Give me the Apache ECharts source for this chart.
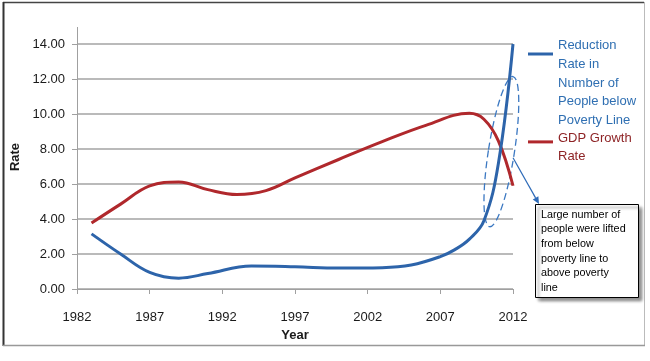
<!DOCTYPE html>
<html>
<head>
<meta charset="utf-8">
<script src="https://cdn.jsdelivr.net/npm/echarts@6/dist/echarts.min.js"></script>
<style>
html,body{margin:0;padding:0;background:#fff;}
#chart{width:650px;height:361px;}
</style>
</head>
<body>
<div id="chart"></div>
<script>
// ---- data ----
var xTicks = [1982, 1987, 1992, 1997, 2002, 2007, 2012];
var yTicks = [0, 2, 4, 6, 8, 10, 12, 14];

var povertyYears = [1983, 1985, 1987, 1989, 1991, 1994, 1997, 2000, 2003, 2005, 2007, 2008, 2009, 2010, 2011, 2012];
var povertyRates = [3.15, 2.00, 0.95, 0.62, 0.88, 1.31, 1.27, 1.20, 1.22, 1.37, 1.85, 2.25, 2.85, 3.90, 7.20, 14.00];

var gdpYears = [1983, 1985, 1987, 1989, 1991, 1993, 1995, 1997, 2000, 2003, 2006, 2009, 2010, 2011, 2012];
var gdpRates = [3.77, 4.85, 5.89, 6.12, 5.68, 5.40, 5.62, 6.35, 7.40, 8.42, 9.35, 10.04, 9.70, 8.45, 5.90];

var seriesNames = ['Reduction\nRate in\nNumber of\nPeople below\nPoverty Line', 'GDP Growth\nRate'];
var noteLines = ['Large number of', 'people were lifted', 'from below', 'poverty line to', 'above poverty', 'line'];

function pairs(xs, ys) { return xs.map(function (x, i) { return [x, ys[i]]; }); }

var BLUE = '#2d64aa';
var RED = '#b0282c';
var FONT = 'Liberation Sans, Arial, sans-serif';

var chart = echarts.init(document.getElementById('chart'), null, {renderer: 'canvas'});

// legend text: an invisible first line of a set height shifts the words below the icon
var legendPad = {};
legendPad[seriesNames[0]] = 's1';
legendPad[seriesNames[1]] = 's2';

var option = {
  backgroundColor: '#fff',
  animation: false,
  grid: {left: 77, right: 137, top: 44, bottom: 72, containLabel: false},
  xAxis: {
    type: 'value', min: xTicks[0], max: xTicks[xTicks.length - 1], interval: 5,
    name: 'Year', nameLocation: 'middle', nameGap: 37,
    nameTextStyle: {fontFamily: FONT, fontSize: 13, fontWeight: 'bold', color: '#1a1a1a'},
    axisLine: {show: true, lineStyle: {color: '#a0a0a0', width: 1}},
    axisTick: {show: true, length: 5, lineStyle: {color: '#a0a0a0'}},
    axisLabel: {fontFamily: FONT, fontSize: 13, color: '#1a1a1a', margin: 22,
      formatter: function (v) { return String(v); }},
    splitLine: {show: false}
  },
  yAxis: {
    type: 'value', min: yTicks[0], max: yTicks[yTicks.length - 1], interval: 2,
    axisLine: {show: true, lineStyle: {color: '#a0a0a0', width: 1}},
    axisTick: {show: true, length: 5, lineStyle: {color: '#a0a0a0'}},
    axisLabel: {fontFamily: FONT, fontSize: 13, color: '#1a1a1a', margin: 12,
      formatter: function (v) { return v.toFixed(2); }},
    splitLine: {show: true, lineStyle: {color: '#a3a3a3', width: 1.5}}
  },
  legend: {
    orient: 'vertical', left: 528, top: 6, padding: 0, itemGap: -5,
    itemWidth: 25, itemHeight: 3, icon: 'rect',
    formatter: function (name) {
      var lines = name.split('\n').map(function (l) { return '{t|' + l + '}'; });
      return '{' + legendPad[name] + '| }\n' + lines.join('\n');
    },
    textStyle: {fontFamily: FONT, fontSize: 13,
      rich: {
        t: {fontFamily: FONT, fontSize: 13, lineHeight: 18.8},
        s1: {fontSize: 2, lineHeight: 58},
        s2: {fontSize: 2, lineHeight: 11}
      }},
    data: [
      {name: seriesNames[0], textStyle: {color: '#2f6fb2'}},
      {name: seriesNames[1], textStyle: {color: '#8e2426'}}
    ]
  },
  series: [
    {name: seriesNames[0], type: 'line', data: pairs(povertyYears, povertyRates),
     smooth: 0.4, showSymbol: false, color: BLUE,
     lineStyle: {color: BLUE, width: 3}, z: 3},
    {name: seriesNames[1], type: 'line', data: pairs(gdpYears, gdpRates),
     smooth: 0.4, showSymbol: false, color: RED,
     lineStyle: {color: RED, width: 3}, z: 2}
  ]
};
chart.setOption(option);

// ---- annotations ----
var c = chart.convertToPixel({gridIndex: 0}, [2011.2, 7.85]);
var a0 = chart.convertToPixel({gridIndex: 0}, [2012.0, 7.5]);
var tip = [539, 204];
var dx = tip[0] - a0[0], dy = tip[1] - a0[1];
var len = Math.sqrt(dx * dx + dy * dy);
var ux = dx / len, uy = dy / len;
var hs = 7, hw = 3.2;
var bx = tip[0] - ux * hs, by = tip[1] - uy * hs;

chart.setOption({
  graphic: [
    // chart frame
    {type: 'line', shape: {x1: 3, y1: 2.5, x2: 644, y2: 2.5}, style: {stroke: '#444', lineWidth: 1.5}, silent: true},
    {type: 'line', shape: {x1: 3.5, y1: 2, x2: 3.5, y2: 346}, style: {stroke: '#333', lineWidth: 2}, silent: true},
    {type: 'line', shape: {x1: 644.5, y1: 2, x2: 644.5, y2: 346}, style: {stroke: '#bbb', lineWidth: 1}, silent: true},
    {type: 'line', shape: {x1: 3, y1: 345.5, x2: 645, y2: 345.5}, style: {stroke: '#999', lineWidth: 1.5}, silent: true},
    // y-axis line continues a little above the top gridline
    {type: 'line', shape: {x1: 77.5, y1: 27, x2: 77.5, y2: 44}, style: {stroke: '#a0a0a0', lineWidth: 1}, silent: true},
    // y axis title
    {type: 'text', x: 15, y: 157, rotation: Math.PI / 2,
     style: {text: 'Rate', font: 'bold 13px ' + FONT, fill: '#1a1a1a', align: 'center', verticalAlign: 'middle'}},
    // dashed ellipse
    {type: 'group', x: c[0], y: c[1], rotation: -0.155, children: [
      {type: 'ellipse', shape: {cx: 0, cy: 0, rx: 13, ry: 76},
       style: {fill: 'none', stroke: '#3b78c2', lineWidth: 1.3, lineDash: [7, 4]}}
    ]},
    // arrow
    {type: 'line', shape: {x1: a0[0], y1: a0[1], x2: bx, y2: by},
     style: {stroke: '#2d6ab8', lineWidth: 1.2}},
    {type: 'polygon', shape: {points: [[tip[0], tip[1]], [bx - uy * hw, by + ux * hw], [bx + uy * hw, by - ux * hw]]},
     style: {fill: '#2d6ab8'}},
    // note box
    {type: 'rect', shape: {x: 535.5, y: 204.5, width: 103, height: 93},
     style: {fill: '#fff', stroke: '#000', lineWidth: 1, shadowColor: 'rgba(0,0,0,0.45)', shadowBlur: 3, shadowOffsetX: 3, shadowOffsetY: 3}, z: 10},
    {type: 'text', x: 541, y: 207.5, z: 11,
     style: {text: noteLines.join('\n'), font: '10.8px ' + FONT, lineHeight: 14.6, fill: '#000', align: 'left', verticalAlign: 'top'}}
  ]
});
</script>
</body>
</html>
